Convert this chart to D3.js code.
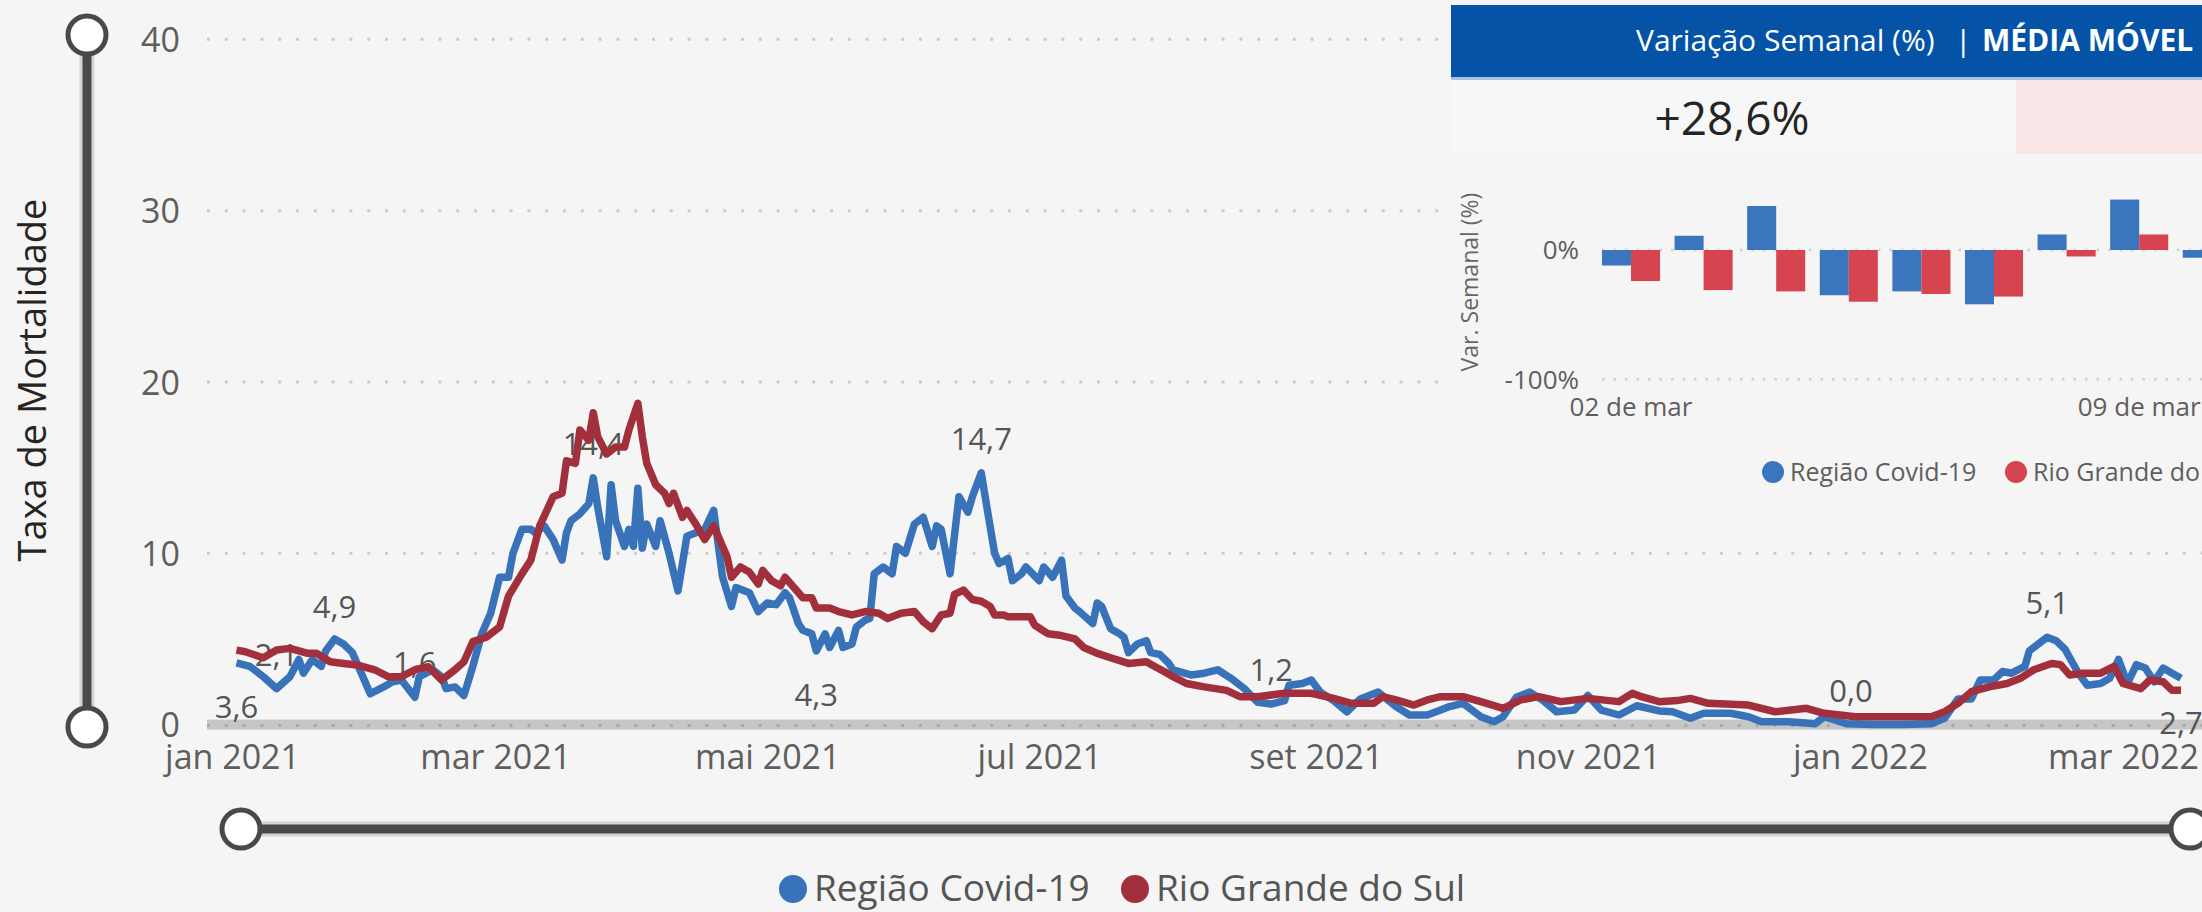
<!DOCTYPE html>
<html>
<head>
<meta charset="utf-8">
<script src="https://cdn.jsdelivr.net/npm/d3@7"></script>
<style>
  body { margin: 0; background: #f5f5f5; overflow: hidden; }
  text { font-family: "Open Sans", "Segoe UI", sans-serif; }
</style>
</head>
<body>
<div id="chart"></div>
<script>
// [day since 1 jan 2021, taxa de mortalidade]
const regiaoSeries = [[1,3.6],[4,3.4],[7,2.8],[10,2.1],[13,2.8],[15,3.8],[16,3.0],[18,3.8],[20,3.4],[21,4.3],
    [23,5.0],[25,4.7],[27,4.2],[29,3.0],[31,1.8],[34,2.2],[36,2.5],[38,2.6],[41,1.6],[42,2.8],
    [45,3.2],[47,2.8],[48,2.1],[50,2.2],[52,1.7],[54,3.4],[56,5.3],[58,6.5],[60,8.6],[62,8.6],
    [63,10.0],[65,11.4],[67,11.4],[68,11.2],[70,11.6],[72,10.8],[74,9.6],[75,11.2],[76,11.9],[78,12.3],
    [80,12.9],[81,14.4],[82,12.7],[84,9.8],[85,14.0],[86,11.9],[88,10.4],[89,11.4],[90,10.4],[91,13.8],
    [92,10.3],[93,11.7],[95,10.4],[96,11.9],[98,10.0],[100,7.8],[102,11.0],[104,11.2],[106,11.4],[108,12.5],
    [110,8.6],[112,6.9],[113,8.0],[116,7.7],[118,6.6],[120,7.1],[122,7.0],[124,7.7],[125,7.4],[127,5.9],
    [128,5.5],[130,5.3],[131,4.3],[133,5.3],[134,4.5],[136,5.5],[137,4.5],[139,4.7],[140,5.7],[142,6.1],
    [143,6.2],[144,8.8],[146,9.2],[148,8.8],[149,10.4],[151,10.0],[153,11.7],[155,12.1],[157,10.4],[158,11.6],
    [159,11.4],[161,8.8],[163,13.3],[165,12.4],[166,13.3],[168,14.7],[169,13.1],[171,10.0],[172,9.4],[174,9.7],
    [175,8.4],[177,8.8],[178,9.2],[181,8.4],[182,9.2],[184,8.6],[186,9.6],[187,7.5],[189,6.8],[190,6.6],
    [193,5.9],[194,7.1],[195,6.9],[197,5.6],[199,5.3],[200,5.1],[201,4.2],[203,4.7],[205,4.9],[206,4.2],
    [208,4.1],[210,3.6],[211,3.2],[215,2.9],[218,3.0],[221,3.2],[224,2.7],[227,2.1],[230,1.3],[233,1.2],
    [236,1.4],[237,2.3],[240,2.4],[242,2.6],[244,1.9],[247,1.4],[250,0.75],[253,1.5],[257,1.9],[261,1.05],
    [264,0.56],[268,0.56],[270,0.75],[273,1.05],[276,1.24],[280,0.46],[283,0.17],[285,0.46],[288,1.6],[291,1.9],
    [294,1.4],[297,0.75],[301,0.85],[304,1.7],[307,0.85],[311,0.56],[315,1.1],[320,0.8],[323,0.75],[327,0.37],
    [330,0.66],[336,0.66],[340,0.46],[343,0.17],[349,0.17],[355,0.05],[357,0.46],[362,0.05],[368,0.0],[375,0.0],
    [381,0.05],[384,0.37],[387,1.5],[390,1.5],[392,2.6],[395,2.6],[397,3.1],[399,3.0],[402,3.4],[403,4.3],
    [405,4.7],[407,5.1],[409,4.9],[411,4.4],[414,3.0],[416,2.3],[419,2.4],[421,2.7],[423,3.8],[425,2.4],
    [427,3.5],[429,3.3],[431,2.5],[433,3.3],[435,3.0],[437,2.7]];

const rsSeries = [[1,4.35],[3,4.25],[7,3.9],[10,4.35],[13,4.45],[17,4.16],[19,4.16],[22,3.67],[25,3.57],[28,3.48],
    [32,3.2],[35,2.8],[38,2.8],[41,3.2],[44,3.38],[47,2.6],[50,3.2],[52,3.67],[54,4.84],[57,5.1],
    [60,5.7],[62,7.5],[65,8.8],[67,9.6],[69,11.6],[72,13.3],[74,13.5],[75,15.4],[77,15.25],[78,17.2],
    [80,16.6],[81,18.2],[82,16.8],[84,15.8],[86,16.2],[88,16.2],[89,17.2],[91,18.75],[92,16.8],[93,15.25],
    [95,14.0],[97,13.5],[98,12.9],[99,13.5],[101,12.1],[102,12.5],[104,11.7],[106,10.8],[108,11.6],[110,10.4],
    [111,9.8],[112,8.6],[114,9.2],[116,8.9],[118,8.2],[119,9.0],[121,8.4],[123,8.1],[124,8.6],[126,8.0],
    [128,7.4],[130,7.4],[131,6.8],[134,6.8],[136,6.6],[139,6.4],[142,6.6],[145,6.5],[147,6.2],[150,6.5],
    [153,6.6],[155,6.0],[157,5.6],[159,6.4],[161,6.5],[162,7.6],[164,7.85],[166,7.3],[168,7.2],[170,6.9],
    [171,6.4],[173,6.4],[174,6.3],[179,6.3],[180,5.8],[183,5.3],[186,5.2],[189,5.0],[191,4.5],[194,4.16],
    [197,3.9],[201,3.57],[205,3.67],[207,3.38],[209,3.1],[211,2.8],[214,2.4],[218,2.2],[223,2.0],[226,1.63],
    [230,1.63],[236,1.83],[242,1.83],[247,1.53],[251,1.24],[256,1.24],[258,1.63],[261,1.44],[265,1.14],[268,1.44],
    [271,1.63],[276,1.63],[280,1.34],[285,0.95],[289,1.44],[293,1.63],[298,1.34],[304,1.53],[311,1.34],[314,1.83],
    [316,1.63],[320,1.34],[324,1.4],[327,1.53],[331,1.24],[340,1.14],[346,0.75],[353,0.95],[357,0.66],[364,0.46],
    [374,0.46],[381,0.46],[384,0.75],[387,1.24],[390,1.92],[394,2.2],[398,2.4],[401,2.7],[404,3.2],[408,3.57],
    [410,3.5],[412,2.9],[415,3.0],[419,3.0],[422,3.4],[424,2.4],[428,2.1],[430,2.6],[433,2.5],[435,2.0],[437,2.0]];

const tickDates = ["2021-01-01","2021-03-01","2021-05-01","2021-07-01","2021-09-01","2021-11-01","2022-01-01","2022-03-01"];
const tickLabels = ["jan 2021","mar 2021","mai 2021","jul 2021","set 2021","nov 2021","jan 2022","mar 2022"];
const yTicks = [0, 10, 20, 30, 40];

// data labels: text, day, value, placed below the point?
const labelText = ["3,6","2,1","4,9","1,6","14,4","4,3","14,7","1,2","0,0","5,1","2,7"];
const labelDays = [1, 10, 23, 41, 81, 131, 168, 233, 363, 407, 437];
const labelVals = [3.6, 2.1, 4.9, 1.6, 14.4, 4.3, 14.7, 1.2, 0.0, 5.1, 2.7];
const labelBelow = [true, false, false, false, false, true, false, false, false, false, true];

const seriesNames = ["Região Covid-19", "Rio Grande do Sul"];

// inset: variação semanal (%)
const barDays = ["02/03","03/03","04/03","05/03","06/03","07/03","08/03","09/03","10/03"];
const barRegiao = [-12, 11, 34, -35, -32, -42, 12, 39, -6];
const barRS = [-24, -31, -32, -40, -34, -36, -5, 12, null];
const barTickDays = ["02/03", "09/03"];
const barTickLabels = ["02 de mar", "09 de mar"];
const barYTicks = [0, -100];
const weekChange = "+28,6%";

const W = 2202, H = 912;
const blue = "#3873ba", red = "#a22f3c";
const barBlue = "#3a75bd", barRed = "#d6444f";
const start = new Date(2021, 0, 1);
const toDate = d => d3.timeDay.offset(start, d);

const svg = d3.select("#chart").append("svg")
    .attr("width", W)
    .attr("height", H)
    .style("display", "block");

svg.append("rect").attr("width", W).attr("height", H).attr("fill", "#f5f5f5");

const x = d3.scaleTime()
    .domain([start, new Date(2022, 2, 1)])
    .range([232, 2123]);
const y = d3.scaleLinear()
    .domain([0, 40])
    .range([724.6, 39.3]);

// gridlines
svg.append("g").selectAll("line")
    .data(yTicks.filter(t => t > 0))
    .enter().append("line")
    .attr("x1", 207).attr("x2", W)
    .attr("y1", d => y(d)).attr("y2", d => y(d))
    .attr("stroke", "#cccccc")
    .attr("stroke-width", 3)
    .attr("stroke-dasharray", "3,14.8");

// x axis band
svg.append("rect")
    .attr("x", 207).attr("y", y(0) - 5)
    .attr("width", W - 207).attr("height", 10)
    .attr("fill", "#c6c6c6");
svg.append("line")
    .attr("x1", 207).attr("x2", W)
    .attr("y1", y(0) + 1).attr("y2", y(0) + 1)
    .attr("stroke", "#a9a9a9")
    .attr("stroke-width", 3)
    .attr("stroke-dasharray", "3,14.8");

// y axis
const yAxis = svg.append("g")
    .attr("transform", "translate(180,0)")
    .call(d3.axisLeft(y).tickValues(yTicks).tickSize(0).tickPadding(0));
yAxis.select(".domain").remove();
yAxis.selectAll("text")
    .attr("font-size", 34)
    .attr("font-family", "Open Sans")
    .attr("fill", "#605e5c")
    .attr("dy", "0.36em");

// x axis
const xAxis = svg.append("g")
    .attr("transform", "translate(0,737)")
    .call(d3.axisBottom(x)
        .tickValues(tickDates.map(d => d3.timeParse("%Y-%m-%d")(d)))
        .tickFormat((d, i) => tickLabels[i])
        .tickSize(0).tickPadding(0));
xAxis.select(".domain").remove();
xAxis.selectAll("text")
    .attr("font-size", 34)
    .attr("font-family", "Open Sans")
    .attr("fill", "#605e5c")
    .attr("dy", "0.95em");

svg.append("text")
    .attr("transform", "translate(33,380) rotate(-90)")
    .attr("text-anchor", "middle")
    .attr("dy", "0.35em")
    .attr("font-size", 38)
    .attr("fill", "#252423")
    .text("Taxa de Mortalidade");

// data labels (under the lines)
svg.append("g").selectAll("text")
    .data(labelText)
    .enter().append("text")
    .attr("x", (d, i) => x(toDate(labelDays[i])))
    .attr("y", (d, i) => y(labelVals[i]) + (labelBelow[i] ? 44 : -34))
    .attr("dy", "0.36em")
    .attr("text-anchor", "middle")
    .attr("font-size", 31)
    .attr("fill", "#555")
    .text(d => d);

const line = d3.line()
    .x(d => x(toDate(d[0])))
    .y(d => y(d[1]));

svg.append("path")
    .datum(regiaoSeries)
    .attr("d", line)
    .attr("fill", "none")
    .attr("stroke", blue)
    .attr("stroke-width", 7.5)
    .attr("stroke-linejoin", "round");
svg.append("path")
    .datum(rsSeries)
    .attr("d", line)
    .attr("fill", "none")
    .attr("stroke", red)
    .attr("stroke-width", 7.5)
    .attr("stroke-linejoin", "round");

// sliders
function slider(x1, y1, x2, y2) {
    svg.append("line").attr("x1", x1).attr("y1", y1).attr("x2", x2).attr("y2", y2)
        .attr("stroke", "#d4d4d4").attr("stroke-width", 15);
    svg.append("line").attr("x1", x1).attr("y1", y1).attr("x2", x2).attr("y2", y2)
        .attr("stroke", "#4a4947").attr("stroke-width", 9);
    [[x1, y1], [x2, y2]].forEach(p => {
        svg.append("circle").attr("cx", p[0]).attr("cy", p[1]).attr("r", 19)
            .attr("fill", "#fff").attr("stroke", "#4a4947").attr("stroke-width", 5);
    });
}
slider(87, 35, 87, 727);
slider(241, 829, 2190, 829);

// legend
const legend = svg.append("g");
seriesNames.forEach((name, i) => {
    const cx = [793, 1135][i];
    legend.append("circle").attr("cx", cx).attr("cy", 889).attr("r", 14)
        .attr("fill", [blue, red][i]);
    legend.append("text").attr("x", cx + 21).attr("y", 901)
        .attr("font-size", 37).attr("fill", "#555").text(name);
});

// ---- inset card ----
const inset = svg.append("g");
inset.append("rect").attr("x", 1451).attr("y", 0).attr("width", W - 1451).attr("height", 505).attr("fill", "#f5f5f5");
inset.append("rect").attr("x", 1451).attr("y", 5).attr("width", W - 1451).attr("height", 73).attr("fill", "#0453a6");
inset.append("rect").attr("x", 1451).attr("y", 77).attr("width", W - 1451).attr("height", 3).attr("fill", "#a9c1e0");
inset.append("rect").attr("x", 1451).attr("y", 80).attr("width", 563).attr("height", 74).attr("fill", "#f7f7f7");
inset.append("rect").attr("x", 2016).attr("y", 80).attr("width", W - 2016).attr("height", 74).attr("fill", "#f9e7e7");

const head = inset.append("text").attr("y", 51).attr("font-size", 30).attr("fill", "#fff");
head.append("tspan").attr("x", 1636).text("Variação Semanal (%)");
head.append("tspan").attr("x", 1955).text("|");
head.append("tspan").attr("x", 1982).attr("font-weight", "bold").text("MÉDIA MÓVEL");

inset.append("text")
    .attr("x", 1732).attr("y", 135)
    .attr("text-anchor", "middle")
    .attr("font-size", 46)
    .attr("fill", "#252423")
    .text(weekChange);

const xb = d3.scaleBand()
    .domain(barDays)
    .range([1594.7, 1594.7 + 72.6 * barDays.length])
    .paddingInner(0.2)
    .paddingOuter(0.1);
const xb1 = d3.scaleBand()
    .domain(["regiao", "rs"])
    .range([0, xb.bandwidth()]);
const yb = d3.scaleLinear()
    .domain([-100, 0])
    .range([379.3, 250]);

inset.append("g").selectAll("line")
    .data(barYTicks)
    .enter().append("line")
    .attr("x1", 1602).attr("x2", W)
    .attr("y1", d => yb(d)).attr("y2", d => yb(d))
    .attr("stroke", "#cfcfcf")
    .attr("stroke-width", 2.5)
    .attr("stroke-dasharray", "2.5,9");

inset.append("g").selectAll("text")
    .data(barYTicks)
    .enter().append("text")
    .attr("x", 1579).attr("y", d => yb(d))
    .attr("dy", "0.36em")
    .attr("text-anchor", "end")
    .attr("font-size", 26)
    .attr("fill", "#605e5c")
    .text(d => d + "%");

inset.append("text")
    .attr("transform", "translate(1470,282) rotate(-90)")
    .attr("text-anchor", "middle")
    .attr("dy", "0.35em")
    .attr("font-size", 23)
    .attr("fill", "#666")
    .text("Var. Semanal (%)");

const barData = barDays.map((d, i) => [
    { day: d, key: "regiao", v: barRegiao[i], c: barBlue },
    { day: d, key: "rs", v: barRS[i], c: barRed }
]).flat().filter(d => d.v !== null);

inset.append("g").selectAll("rect")
    .data(barData)
    .enter().append("rect")
    .attr("x", d => xb(d.day) + xb1(d.key))
    .attr("width", xb1.bandwidth())
    .attr("y", d => yb(Math.max(0, d.v)))
    .attr("height", d => Math.abs(yb(d.v) - yb(0)))
    .attr("fill", d => d.c);

inset.append("g").selectAll("text")
    .data(barTickDays)
    .enter().append("text")
    .attr("x", d => xb(d) + xb.bandwidth() / 2)
    .attr("y", 416)
    .attr("text-anchor", "middle")
    .attr("font-size", 26)
    .attr("fill", "#605e5c")
    .text((d, i) => barTickLabels[i]);

seriesNames.forEach((name, i) => {
    const cx = [1773, 2016][i];
    inset.append("circle").attr("cx", cx).attr("cy", 472).attr("r", 11)
        .attr("fill", [barBlue, barRed][i]);
    inset.append("text").attr("x", cx + 17).attr("y", 481)
        .attr("font-size", 25).attr("fill", "#605e5c").text(name);
});
</script>
</body>
</html>
